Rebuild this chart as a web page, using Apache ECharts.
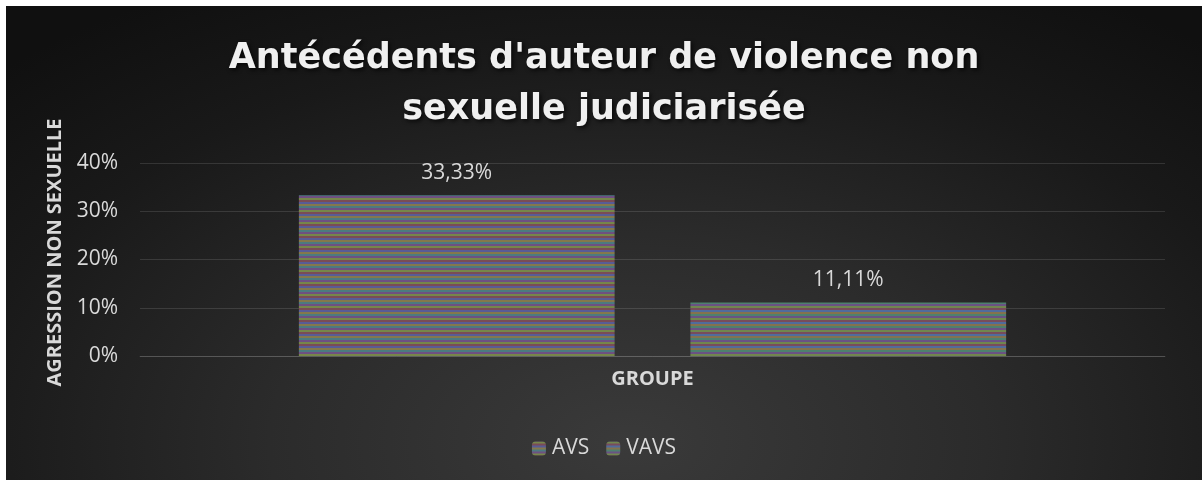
<!DOCTYPE html>
<html>
<head>
<meta charset="utf-8">
<script src="https://cdn.jsdelivr.net/npm/echarts@6/dist/echarts.min.js"></script>
<style>
html,body{margin:0;padding:0;background:#fff;width:1202px;height:481px;overflow:hidden;}
#c{position:absolute;left:6px;top:6px;width:1196px;height:474px;
background:radial-gradient(ellipse 75% 110% at 52% 92%, #3a3a3a 0%, #2b2b2b 40%, #191919 75%, #101010 100%);}
</style>
</head>
<body>
<div id="c"></div>
<script>
const titleText = "Antécédents d'auteur de violence non\nsexuelle judiciarisée";
const categories = ['GROUPE'];
const seriesNames = ['AVS', 'VAVS'];
const avsValues = [0.3333];
const vavsValues = [0.1111];
const yTicks = [0, 0.1, 0.2, 0.3, 0.4];
const yAxisName = 'AGRESSION NON SEXUELLE';

function stripes(colors) {
  const cv = document.createElement('canvas');
  cv.width = 4; cv.height = colors.length * 2;
  const ctx = cv.getContext('2d');
  colors.forEach((c, i) => { ctx.fillStyle = c; ctx.fillRect(0, i * 2, 4, 2); });
  return { image: cv, repeat: 'repeat' };
}
const pat1 = stripes(['#76864a', '#7a4c56', '#585c96', '#84784c', '#4c7a80', '#6e5082']);
const pat2 = stripes(['#70864e', '#784c5c', '#506c9c', '#84724e', '#4e806e', '#6a5284']);

const txt = '#d9d9d9';
const chart = echarts.init(document.getElementById('c'), null, { renderer: 'canvas' });
chart.setOption({
  backgroundColor: 'transparent',
  title: {
    text: titleText, left: 'center', top: 22,
    textStyle: { fontFamily: 'DejaVu Sans', fontWeight: 'bold', fontSize: 35, lineHeight: 51, color: '#f0f0f0',
      textShadowColor: 'rgba(0,0,0,0.7)', textShadowBlur: 4, textShadowOffsetX: 2, textShadowOffsetY: 2 }
  },
  legend: {
    data: seriesNames, top: 427, left: 'center', itemWidth: 14, itemHeight: 14, itemGap: 17,
    textStyle: { color: txt, fontSize: 21, fontFamily: 'Open Sans', padding: [0, 0, 0, 1] }
  },
  grid: { left: 134, right: 37, top: 157, bottom: 124, containLabel: false },
  xAxis: {
    type: 'category', data: categories,
    axisLine: { lineStyle: { color: 'rgba(255,255,255,0.12)' } },
    axisTick: { show: false },
    axisLabel: { color: txt, fontWeight: 'bold', fontSize: 20, fontFamily: 'Open Sans', margin: 13 }
  },
  yAxis: {
    type: 'value', min: 0, max: yTicks[yTicks.length - 1], interval: 0.1,
    name: yAxisName, nameLocation: 'middle', nameGap: 68,
    nameTextStyle: { color: txt, fontWeight: 'bold', fontSize: 20, fontFamily: 'Open Sans', padding: [0, 0, 0, 14] },
    axisLine: { show: false }, axisTick: { show: false },
    splitLine: { lineStyle: { color: 'rgba(255,255,255,0.12)' } },
    axisLabel: { color: txt, fontSize: 21, fontFamily: 'Open Sans', margin: 22,
      formatter: v => Math.round(v * 100) + '%' }
  },
  series: [
    { name: seriesNames[0], type: 'bar', data: avsValues, barGap: '24%', barCategoryGap: '31%',
      itemStyle: { color: pat1 },
      label: { show: true, position: 'top', distance: 12, color: txt, fontSize: 21, fontFamily: 'Open Sans',
        formatter: p => (p.value * 100).toFixed(2).replace('.', ',') + '%' } },
    { name: seriesNames[1], type: 'bar', data: vavsValues,
      itemStyle: { color: pat2 },
      label: { show: true, position: 'top', distance: 12, color: txt, fontSize: 21, fontFamily: 'Open Sans',
        formatter: p => (p.value * 100).toFixed(2).replace('.', ',') + '%' } }
  ]
});
</script>
</body>
</html>
